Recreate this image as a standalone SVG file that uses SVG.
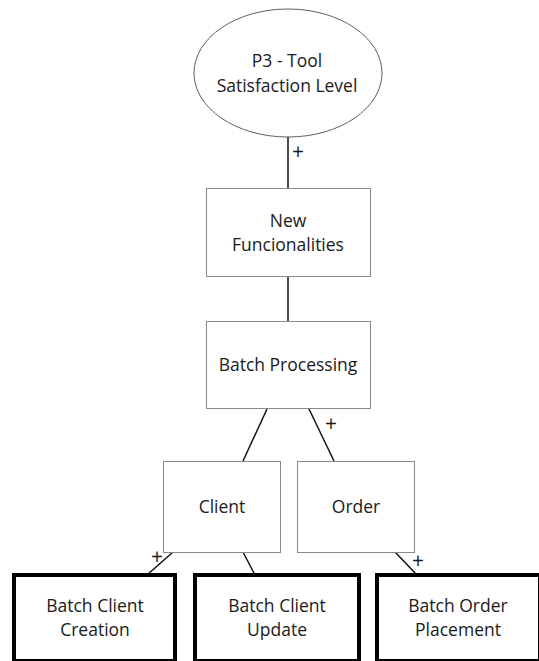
<svg xmlns="http://www.w3.org/2000/svg" width="539" height="661" viewBox="0 0 539 661">
  <style>
    .lbl { font-family: "Open Sans", "Noto Sans", "Liberation Sans", sans-serif; font-size: 17.5px; fill: #1a1a1a; text-anchor: middle; }
    .sign { font-family: "Open Sans", "Noto Sans", "Liberation Sans", sans-serif; font-size: 21px; fill: #1a1a1a; text-anchor: middle; }
    .soft { fill: #ffffff; stroke: #8a8a8a; stroke-width: 1; }
    .goal { fill: #ffffff; stroke: #606060; stroke-width: 1; }
    .leaf { fill: #ffffff; stroke: #000000; stroke-width: 4; }
    .link { stroke: #111111; stroke-width: 1.5; fill: none; }
  </style>
  <rect width="539" height="661" fill="#ffffff"/>

  <!-- connectors -->
  <g id="connectors">
    <line class="link" x1="288" y1="137" x2="288" y2="188"/>
    <text class="sign" x="298" y="159">+</text>
    <line class="link" x1="288" y1="277" x2="288" y2="321"/>
    <line class="link" x1="267" y1="409" x2="243" y2="461"/>
    <line class="link" x1="309" y1="409" x2="334" y2="461"/>
    <text class="sign" x="331" y="431">+</text>
    <line class="link" x1="173" y1="552" x2="147" y2="575"/>
    <text class="sign" x="157" y="564">+</text>
    <line class="link" x1="243" y1="552" x2="255" y2="575"/>
    <line class="link" x1="395" y1="552" x2="417" y2="575"/>
    <text class="sign" x="418" y="568">+</text>
  </g>

  <g id="p3-tool-satisfaction">
    <ellipse class="goal" cx="288" cy="73" rx="94" ry="64"/>
    <text class="lbl" x="287" y="67">P3 - Tool</text>
    <text class="lbl" x="287" y="92">Satisfaction Level</text>
  </g>

  <g id="new-funcionalities">
    <rect class="soft" x="206.5" y="188.5" width="164" height="88"/>
    <text class="lbl" x="288" y="227">New</text>
    <text class="lbl" x="288" y="251">Funcionalities</text>
  </g>

  <g id="batch-processing">
    <rect class="soft" x="206.5" y="321.5" width="164" height="87"/>
    <text class="lbl" x="288" y="371">Batch Processing</text>
  </g>

  <g id="client">
    <rect class="soft" x="163.5" y="461.5" width="117" height="91"/>
    <text class="lbl" x="222" y="513">Client</text>
  </g>

  <g id="order">
    <rect class="soft" x="297.5" y="461.5" width="117" height="91"/>
    <text class="lbl" x="356" y="513">Order</text>
  </g>

  <g id="batch-client-creation">
    <rect class="leaf" x="14" y="575" width="161" height="86"/>
    <text class="lbl" x="95" y="612">Batch Client</text>
    <text class="lbl" x="95" y="636">Creation</text>
  </g>

  <g id="batch-client-update">
    <rect class="leaf" x="195" y="575" width="164" height="86"/>
    <text class="lbl" x="277" y="612">Batch Client</text>
    <text class="lbl" x="277" y="636">Update</text>
  </g>

  <g id="batch-order-placement">
    <rect class="leaf" x="377" y="575" width="163" height="86"/>
    <text class="lbl" x="458" y="612">Batch Order</text>
    <text class="lbl" x="458" y="636">Placement</text>
  </g>
</svg>
